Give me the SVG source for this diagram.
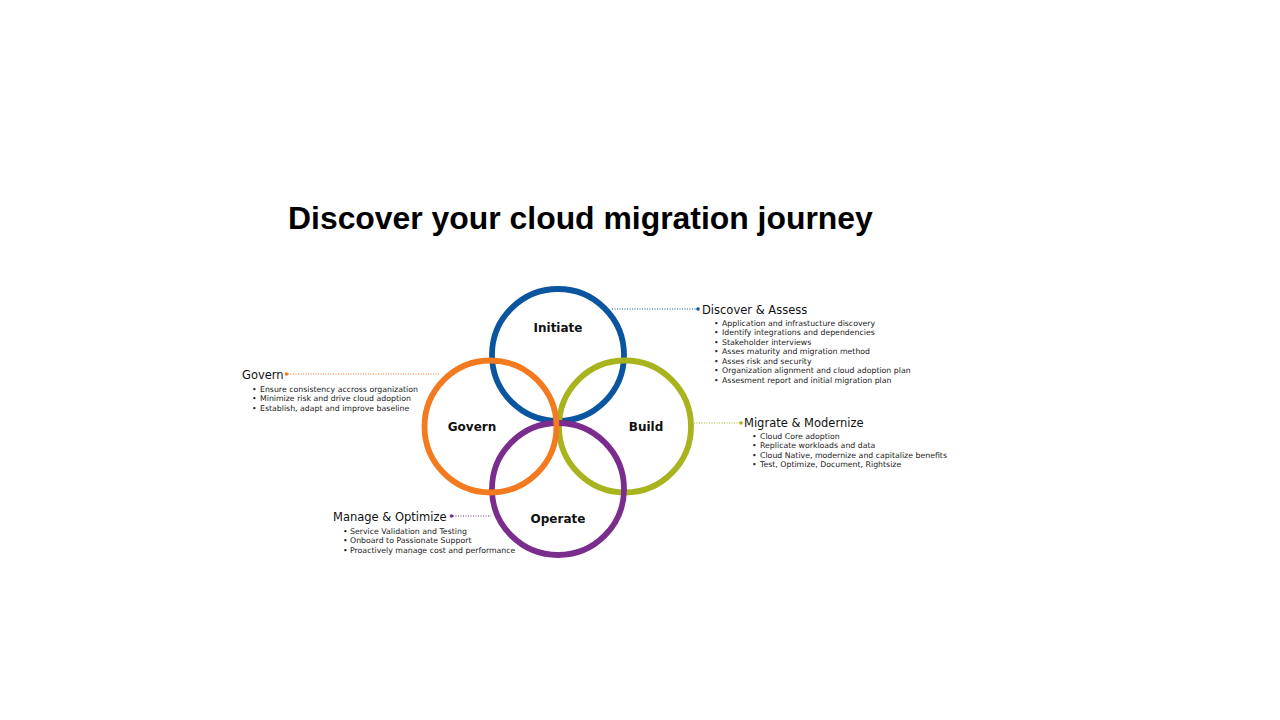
<svg xmlns="http://www.w3.org/2000/svg" width="1280" height="720" viewBox="0 0 1280 720">
<style>
.title{font-family:"Liberation Sans",Arial,sans-serif;font-weight:bold;font-size:31.9px;fill:#000}
.lbl{font-family:"DejaVu Sans",Verdana,sans-serif;font-weight:bold;font-size:12px;fill:#111;text-anchor:middle}
.hd{font-family:"DejaVu Sans",Verdana,sans-serif;font-size:11.5px;fill:#111}
.bl{font-family:"DejaVu Sans",Verdana,sans-serif;font-size:7.8px;fill:#222}
.ring{fill:none;stroke-width:5.8}
.dot{stroke-width:1;stroke-dasharray:1 1.5;fill:none}
</style>
<rect width="1280" height="720" fill="#fff"/>
<text class="title" x="288" y="229">Discover your cloud migration journey</text>

<g id="connectors">
<line class="dot" x1="612" y1="309" x2="697" y2="309" stroke="#0A55A0"/>
<circle cx="698" cy="309" r="1.8" fill="#0A55A0"/>
<line class="dot" x1="694" y1="423" x2="740" y2="423" stroke="#A8B41E"/>
<circle cx="741" cy="423" r="1.8" fill="#A8B41E"/>
<line class="dot" x1="288" y1="374" x2="440" y2="374" stroke="#F47A20"/>
<circle cx="286.5" cy="374" r="1.8" fill="#F47A20"/>
<line class="dot" x1="453" y1="516" x2="491" y2="516" stroke="#7B2D8E"/>
<circle cx="451.5" cy="516" r="1.8" fill="#7B2D8E"/>
</g>

<g id="initiate">
<circle class="ring" cx="558" cy="355" r="66" stroke="#0A55A0"/>
<text class="lbl" x="558" y="332">Initiate</text>
</g>
<g id="build">
<circle class="ring" cx="625" cy="426.5" r="66" stroke="#A8B41E"/>
<text class="lbl" x="646" y="431">Build</text>
</g>
<g id="operate">
<circle class="ring" cx="558" cy="489" r="66" stroke="#7B2D8E"/>
<text class="lbl" x="558" y="523">Operate</text>
</g>
<g id="govern">
<circle class="ring" cx="490.5" cy="426.5" r="66" stroke="#F47A20"/>
<text class="lbl" x="472" y="431">Govern</text>
</g>

<g id="discover-assess">
<text class="hd" x="702" y="314">Discover &amp; Assess</text>
<g class="bl">
<text x="714" y="325.5">•</text><text x="722" y="325.5">Application and infrastucture discovery</text>
<text x="714" y="335">•</text><text x="722" y="335">Identify integrations and dependencies</text>
<text x="714" y="344.5">•</text><text x="722" y="344.5">Stakeholder interviews</text>
<text x="714" y="354">•</text><text x="722" y="354">Asses maturity and migration method</text>
<text x="714" y="363.5">•</text><text x="722" y="363.5">Asses risk and security</text>
<text x="714" y="373">•</text><text x="722" y="373">Organization alignment and cloud adoption plan</text>
<text x="714" y="382.5">•</text><text x="722" y="382.5">Assesment report and initial migration plan</text>
</g>
</g>

<g id="migrate-modernize">
<text class="hd" x="744" y="427">Migrate &amp; Modernize</text>
<g class="bl">
<text x="752" y="438.5">•</text><text x="760" y="438.5">Cloud Core adoption</text>
<text x="752" y="448">•</text><text x="760" y="448">Replicate workloads and data</text>
<text x="752" y="457.5">•</text><text x="760" y="457.5">Cloud Native, modernize and capitalize benefits</text>
<text x="752" y="467">•</text><text x="760" y="467">Test, Optimize, Document, Rightsize</text>
</g>
</g>

<g id="govern-text">
<text class="hd" x="242" y="379">Govern</text>
<g class="bl">
<text x="252" y="391.5">•</text><text x="260" y="391.5">Ensure consistency accross organization</text>
<text x="252" y="401">•</text><text x="260" y="401">Minimize risk and drive cloud adoption</text>
<text x="252" y="410.5">•</text><text x="260" y="410.5">Establish, adapt and improve baseline</text>
</g>
</g>

<g id="manage-optimize">
<text class="hd" x="333" y="520.5">Manage &amp; Optimize</text>
<g class="bl">
<text x="343" y="533.5">•</text><text x="350" y="533.5">Service Validation and Testing</text>
<text x="343" y="543">•</text><text x="350" y="543">Onboard to Passionate Support</text>
<text x="343" y="552.5">•</text><text x="350" y="552.5">Proactively manage cost and performance</text>
</g>
</g>
</svg>
